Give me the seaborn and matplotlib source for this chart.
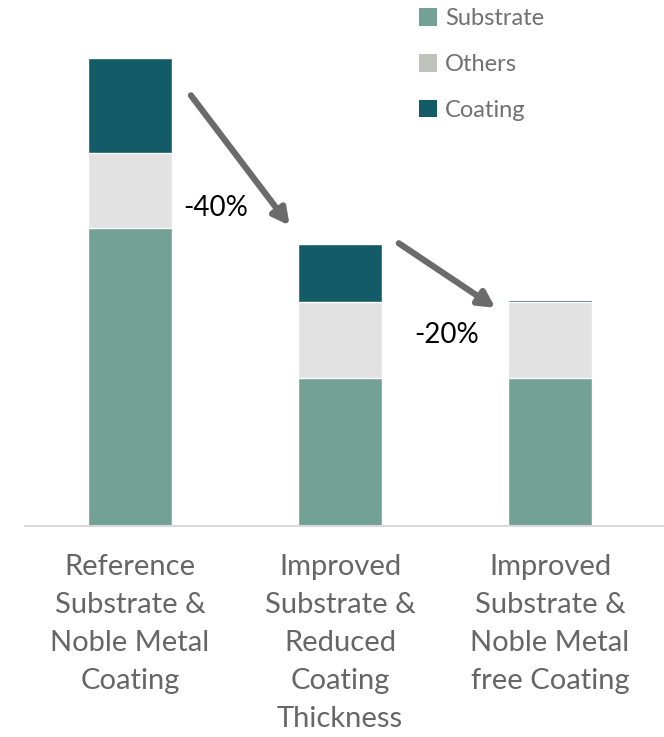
import matplotlib
matplotlib.use('Agg')
import matplotlib.pyplot as plt
from matplotlib.patches import Patch
import seaborn as sns
import pandas as pd
import numpy as np

# Data (relative cost, reference total = 100)
categories = [
    'Reference\nSubstrate &\nNoble Metal\nCoating',
    'Improved\nSubstrate &\nReduced\nCoating\nThickness',
    'Improved\nSubstrate &\nNoble Metal\nfree Coating',
]
substrate = [63.7, 31.6, 31.6]
others = [16.0, 16.2, 16.2]
coating = [20.3, 12.4, 0.5]

series_names = ['Substrate', 'Others', 'Coating']
bar_colors = {'Substrate': '#73A194', 'Others': '#E2E2E2', 'Coating': '#135B66'}
legend_colors = {'Substrate': '#73A194', 'Others': '#BFC3BD', 'Coating': '#135B66'}

df = pd.DataFrame({
    'category': categories,
    'Substrate': substrate,
    'Others': others,
    'Coating': coating,
})
df['lvl1'] = df['Substrate']
df['lvl2'] = df['lvl1'] + df['Others']
df['total'] = df['lvl2'] + df['Coating']

sns.set_style('white')
plt.rcParams['font.family'] = ['Lato', 'DejaVu Sans']

fig = plt.figure(figsize=(6.64, 7.37), dpi=100)
ax = fig.add_axes([25 / 664, 211 / 737, 639 / 664, 506 / 737])

# stacked bars: draw cumulative heights back to front
sns.barplot(data=df, x='category', y='total', color=bar_colors['Coating'],
            width=0.4, saturation=1, ax=ax)
sns.barplot(data=df, x='category', y='lvl2', color=bar_colors['Others'],
            width=0.4, saturation=1, ax=ax)
sns.barplot(data=df, x='category', y='lvl1', color=bar_colors['Substrate'],
            width=0.4, saturation=1, ax=ax)

ax.set_xlim(-0.5, (664 - 130) / 210)
ax.set_ylim(0, 108.1)
ax.set_xlabel('')
ax.set_ylabel('')
ax.set_yticks([])
for side in ['top', 'right', 'left']:
    ax.spines[side].set_visible(False)
ax.spines['bottom'].set_color('#D9D9D9')
ax.spines['bottom'].set_linewidth(1.5)
ax.tick_params(axis='x', length=0, pad=20, labelsize=21, labelcolor='#666666')
for lbl in ax.get_xticklabels():
    lbl.set_linespacing(1.58)
    lbl.set_va('top')

# reduction arrows and labels
totals = df['total'].tolist()
arrow_style = dict(arrowstyle='-|>,head_length=0.95,head_width=0.5',
                   color='#6B6B6B', lw=4.5, shrinkA=0, shrinkB=0)
ax.annotate('', xy=(0.76, totals[1] + 4), xytext=(0.29, totals[0] - 8),
            arrowprops=arrow_style)
ax.annotate('', xy=(1.74, totals[2] - 1.7), xytext=(1.28, totals[1] + 0.2),
            arrowprops=arrow_style)
pct1 = (totals[1] / totals[0] - 1) * 100
pct2 = (totals[2] / totals[1] - 1) * 100
ax.text(0.41, 68, f'{pct1:.0f}%', ha='center', va='center', fontsize=20, color='black')
ax.text(1.51, 40.8, f'{pct2:.0f}%', ha='center', va='center', fontsize=20, color='black')

handles = [Patch(facecolor=legend_colors[n], edgecolor='none', label=n) for n in series_names]
fig.legend(handles=handles, loc='upper left', bbox_to_anchor=(398 / 664, 1.0175),
           frameon=False, fontsize=17, labelcolor='#707070',
           handlelength=0.75, handleheight=0.75, handletextpad=0.35,
           labelspacing=1.05)

fig.savefig('out.png', dpi=100)
